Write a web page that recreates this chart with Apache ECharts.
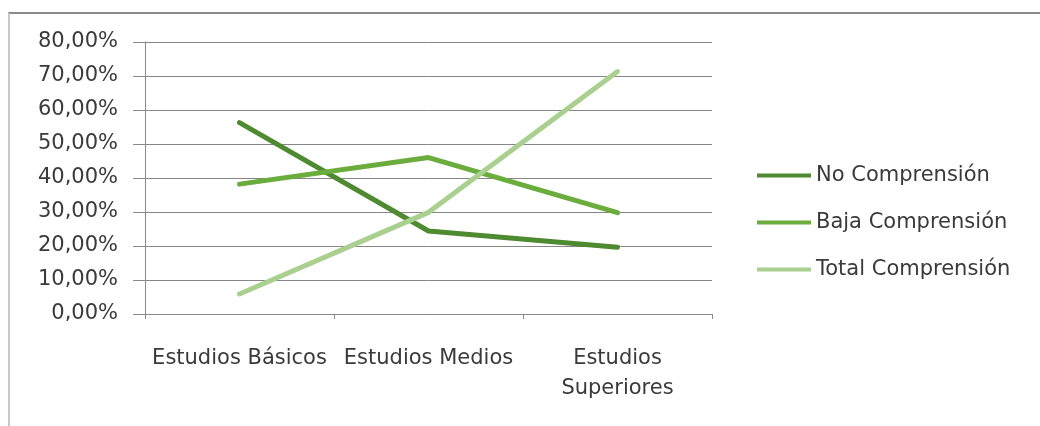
<!DOCTYPE html>
<html>
<head>
<meta charset="utf-8">
<script src="https://cdn.jsdelivr.net/npm/echarts@6/dist/echarts.min.js"></script>
<style>
  html, body { margin: 0; padding: 0; background: #fff; }
  #frame {
    position: absolute; left: 8px; top: 12px; width: 1032px; height: 414px;
    border-top: 2px solid #8a8a8a; border-left: 2px solid #c8c8c8; box-sizing: border-box;
  }
  #chart { position: absolute; left: 0; top: 0; width: 1040px; height: 426px; }
</style>
</head>
<body>
<div id="frame"></div>
<div id="chart"></div>
<script>
const categories = ['Estudios Básicos', 'Estudios Medios', 'Estudios\nSuperiores'];
const noComprension = [0.563, 0.244, 0.196];
const bajaComprension = [0.382, 0.460, 0.298];
const totalComprension = [0.059, 0.299, 0.713];
const yTicks = [0, 0.1, 0.2, 0.3, 0.4, 0.5, 0.6, 0.7, 0.8];

const font = '"DejaVu Sans", sans-serif';
const chart = echarts.init(document.getElementById('chart'), null, { renderer: 'canvas' });

function line(name, data, color) {
  return {
    name, type: 'line', data, symbol: 'none', smooth: false,
    lineStyle: { color, width: 5, cap: 'round', join: 'round' },
    itemStyle: { color }
  };
}

chart.setOption({
  animation: false,
  grid: { left: 145, right: 328, top: 42, bottom: 112 },
  legend: {
    orient: 'vertical', left: 752, top: 160,
    icon: 'rect', itemWidth: 54, itemHeight: 4, itemGap: 26,
    textStyle: { fontFamily: font, fontSize: 21, lineHeight: 21, color: '#3a3a3a' },
    data: ['No Comprensión', 'Baja Comprensión', 'Total Comprensión']
  },
  xAxis: {
    type: 'category', data: categories, boundaryGap: true,
    axisLine: { lineStyle: { color: '#8a8a8a', width: 1 } },
    axisTick: { show: true, length: 5, lineStyle: { color: '#8a8a8a' } },
    axisLabel: { fontFamily: font, fontSize: 21, color: '#3a3a3a', margin: 30, lineHeight: 30, interval: 0 }
  },
  yAxis: {
    type: 'value', min: yTicks[0], max: yTicks[yTicks.length - 1], interval: 0.1,
    axisLine: { show: true, lineStyle: { color: '#8a8a8a', width: 1 } },
    axisTick: { show: true, inside: false, length: 12, lineStyle: { color: '#8a8a8a' } },
    splitLine: { lineStyle: { color: '#868686', width: 1 } },
    axisLabel: {
      fontFamily: font, fontSize: 21, color: '#3a3a3a', margin: 27,
      formatter: v => (v * 100).toFixed(2).replace('.', ',') + '%'
    }
  },
  series: [
    line('No Comprensión', noComprension, '#4e8a2f'),
    line('Baja Comprensión', bajaComprension, '#6aad3c'),
    line('Total Comprensión', totalComprension, '#a9d08e')
  ]
});
</script>
</body>
</html>
